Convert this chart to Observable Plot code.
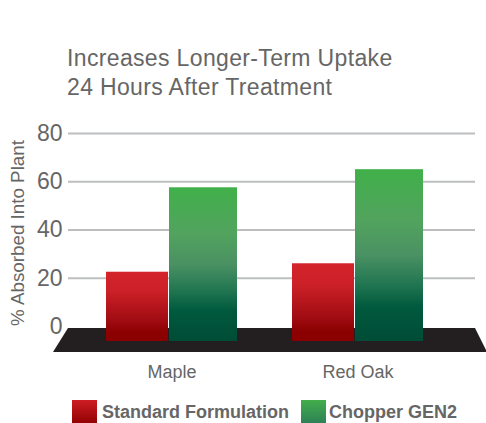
<!DOCTYPE html>
<html><head><meta charset="utf-8">
<script src="https://cdn.jsdelivr.net/npm/d3@7"></script>
<script src="https://cdn.jsdelivr.net/npm/@observablehq/plot@0.6"></script>
<style>
body{margin:0;background:#fff;font-family:"Liberation Sans",Arial,Helvetica,sans-serif;width:486px;height:423px;overflow:hidden;}
#title{padding:44px 0 0 67px;font-size:23px;letter-spacing:0.35px;line-height:29px;color:#666;height:58px;box-sizing:content-box;white-space:nowrap;}
#chart svg{display:block;}
#legend{position:relative;height:28px;overflow:hidden;}
.sw{position:absolute;top:5px;width:25px;height:25px;}
.lt{position:absolute;top:8px;font-size:18px;line-height:18px;font-weight:bold;color:#666;white-space:nowrap;}
</style></head><body>
<div id="title"></div>
<div id="chart"></div>
<div id="legend"></div>
<script>
// ---- data ----
const titleLines = ["Increases Longer-Term Uptake", "24 Hours After Treatment"];
const categories = ["Maple", "Red Oak"];
const seriesNames = ["Standard Formulation", "Chopper GEN2"];
const standardValues = [22.5, 26];
const chopperValues = [57.5, 65];
const yTicks = [0, 20, 40, 60, 80];
const yLabel = "% Absorbed Into Plant";

// ---- styles ----
const textColor = "#666";
const gridColor = "#bcbec0";
const floorColor = "#231f20";
const stdStops = [[0, "#d4232b"], [0.28, "#cc2027"], [0.7, "#a00c12"], [0.88, "#8b0000"], [1, "#8a0000"]];
const genStops = [[0, "#40b04a"], [0.3, "#52a35e"], [0.5, "#4a9163"], [0.68, "#1f7450"], [0.8, "#005a3d"], [1, "#004c36"]];

document.getElementById("title").innerHTML = titleLines.join("<br>");

const rows = categories.flatMap((c, i) => [
  {category: c, series: seriesNames[0], value: standardValues[i]},
  {category: c, series: seriesNames[1], value: chopperValues[i]}
]);

const svgNS = "http://www.w3.org/2000/svg";
function stopsHTML(stops) {
  return stops.map(([o, c]) => `<stop offset="${o}" stop-color="${c}"/>`).join("");
}
function defsMark(index, scales, values, dimensions, context) {
  const doc = (context && context.document) || document;
  const defs = doc.createElementNS(svgNS, "defs");
  defs.innerHTML =
    `<linearGradient id="gradStd" x1="0" y1="0" x2="0" y2="1">${stopsHTML(stdStops)}</linearGradient>` +
    `<linearGradient id="gradGen" x1="0" y1="0" x2="0" y2="1">${stopsHTML(genStops)}</linearGradient>`;
  return defs;
}
function floorMark(index, scales, values, dimensions, context) {
  const doc = (context && context.document) || document;
  const {width, height, marginLeft, marginRight, marginBottom} = dimensions;
  const y0 = scales && scales.y ? scales.y(0) : height - marginBottom;
  const xl = marginLeft, xr = width - marginRight;
  const p = doc.createElementNS(svgNS, "path");
  p.setAttribute("d", `M${xl},${y0 + 2}H${xr}L${xr + 12},${y0 + 26}H${xl - 15}Z`);
  p.setAttribute("fill", floorColor);
  return p;
}

const chart = Plot.plot({
  width: 486,
  height: 293,
  marginTop: 31,
  marginBottom: 69,
  marginLeft: 68,
  marginRight: 11,
  style: {fontFamily: '"Liberation Sans", Arial, Helvetica, sans-serif', fontSize: "23px", color: textColor, background: "#fff", overflow: "visible"},
  x: {domain: categories, range: [105, 424], paddingInner: 0.294, paddingOuter: 0, axis: null},
  y: {domain: [0, 80], ticks: yTicks, tickSize: 0, tickPadding: 6, label: null},
  marks: [
    defsMark,
    Plot.ruleY(yTicks.filter(d => d > 0), {stroke: gridColor, strokeWidth: 2}),
    floorMark,
    Plot.barY(rows.filter(d => d.series === seriesNames[0]), {x: "category", y: "value", fill: "url(#gradStd)", insetRight: 69, insetBottom: -15}),
    Plot.barY(rows.filter(d => d.series === seriesNames[1]), {x: "category", y: "value", fill: "url(#gradGen)", insetLeft: 63, insetBottom: -15}),
    Plot.text(categories, {x: d => d, text: d => d, frameAnchor: "bottom", lineAnchor: "top", dy: 39, fontSize: 18, fill: textColor}),
    Plot.text([yLabel], {text: d => d, frameAnchor: "left", textAnchor: "middle", rotate: -90, dx: -51, dy: 3, fontSize: 18.8, fill: textColor})
  ]
});
document.getElementById("chart").appendChild(chart);

// legend
const legend = document.getElementById("legend");
const swLeft = [72, 301], txtLeft = [102, 329];
const swGrad = [
  "linear-gradient(#cc1d24, #8e0000)",
  "linear-gradient(#42ae4b, #2c7d58)"
];
seriesNames.forEach((name, i) => {
  const sw = document.createElement("div");
  sw.className = "sw";
  sw.style.left = swLeft[i] + "px";
  sw.style.background = swGrad[i];
  legend.appendChild(sw);
  const t = document.createElement("div");
  t.className = "lt";
  t.style.left = txtLeft[i] + "px";
  t.textContent = name;
  legend.appendChild(t);
});
</script>
</body></html>
